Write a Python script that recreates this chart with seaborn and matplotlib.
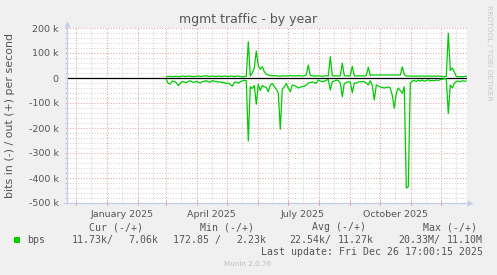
import numpy as np
import pandas as pd
import matplotlib
matplotlib.use("Agg")
import matplotlib.pyplot as plt
import matplotlib.dates as mdates
from matplotlib.patches import Rectangle
import seaborn as sns

# ---------------- data (k bits per second), one value every 2 days ----------------
start_date = "2025-03-01"
out_k = [5, 6, 7, 5, 6, 7, 5, 6, 8, 7, 6, 8, 7, 6, 5, 7, 8, 6, 7, 8, 9, 7, 6, 8, 7, 6, 8, 7, 6, 8,
         7, 6, 8, 7, 6, 7, 8, 6, 5, 6, 7,
         145, 8, 20, 40, 108, 50, 35, 45, 25, 15, 12, 10, 9, 10, 9, 8, 7, 9, 8, 9, 8, 10, 8, 9, 8,
         10, 9, 8, 9, 12, 52, 10, 9, 8,
         8, 9, 8, 7, 8, 9, 8, 85, 10, 8, 9, 8, 9, 59, 10, 8, 9, 8, 47, 9, 8, 9, 8, 9, 8, 10, 43,
         10, 12, 12, 12, 12, 12, 12, 12,
         12, 12, 12, 12, 12, 12, 12, 12, 45, 14, 8, 8, 8, 7, 8, 7, 8, 7, 8, 7, 8, 7, 8, 7, 8, 7,
         8, 7, 6, 6, 6, 179, 30, 40, 25, 6, 5, 6, 5, 6, 7]
in_k = [6, 22, 24, 12, 14, 18, 30, 22, 14, 16, 19, 14, 11, 16, 18, 13, 17, 20, 15, 13, 11, 15,
        17, 10, 13, 14, 17, 15, 19, 18, 22, 20, 26, 33, 18, 16, 21, 15, 12, 9, 12,
        252, 35, 42, 30, 105, 25, 50, 30, 35, 38, 55, 28, 22, 35, 45, 60, 205, 45, 35, 22, 40,
        55, 28, 30, 34, 40, 36, 35, 33, 28, 20, 18, 16, 18,
        21, 8, 12, 15, 13, 9, 6, 48, 15, 12, 8, 10, 20, 75, 22, 18, 15, 16, 59, 20, 21, 16, 15,
        14, 15, 20, 28, 11, 30, 88, 28, 32, 36, 38, 40,
        38, 36, 40, 70, 121, 61, 40, 50, 61, 35, 440, 435, 21, 12, 10, 14, 9, 12, 8, 13, 10, 7,
        12, 9, 11, 8, 10, 6, 5, 3, 3, 142, 28, 40, 21, 14, 12, 15, 11, 13, 12]

y_tick_values = [-500000, -400000, -300000, -200000, -100000, 0, 100000, 200000]
y_tick_labels = ["-500 k", "-400 k", "-300 k", "-200 k", "-100 k", "0", "100 k", "200 k"]
x_label_dates = ["2025-01-16", "2025-04-15", "2025-07-15", "2025-10-16"]
x_labels = ["January 2025", "April 2025", "July 2025", "October 2025"]

title = "mgmt traffic - by year"
ylabel = "bits in (-) / out (+) per second"
legend_name = "bps"
stat_headers = ["Cur (-/+)", "Min (-/+)", "Avg (-/+)", "Max (-/+)"]
stat_in = ["11.73k/", "172.85 /", "22.54k/", "20.33M/"]
stat_out = ["7.06k", "2.23k", "11.27k", "11.10M"]
last_update = "Last update: Fri Dec 26 17:00:15 2025"
footer = "Munin 2.0.76"
watermark = "RRDTOOL / TOBI OETIKER"

# ---------------- styling ----------------
sns.set_theme(style="white")
plt.rcParams["font.family"] = ["DejaVu Sans"]

W, H = 497, 275
fig = plt.figure(figsize=(W / 100, H / 100), dpi=100)
fig.patch.set_facecolor("#F0F0F0")
ax = fig.add_axes([67 / W, (H - 203) / H, 400 / W, 175 / H])
ax.set_facecolor("white")

green = "#00CC00"
major_c = "#E8A4A4"
minor_c = "#D4D4D4"
axis_c = "#C4CCEE"
text_c = "#555555"
dots = (0, (1, 1.6))

dates = pd.date_range(start_date, periods=len(out_k), freq="2D")
df = pd.DataFrame({"date": dates,
                   "out": np.array(out_k, dtype=float) * 1000,
                   "in": -np.array(in_k, dtype=float) * 1000})

t_end = pd.Timestamp("2025-12-26 17:00")
t_start = t_end - pd.Timedelta(days=400)
ax.set_xlim(t_start, t_end)
ax.set_ylim(-500000, 200000)

# grid
month_starts = pd.date_range("2024-12-01", "2025-12-01", freq="MS")
mid_months = month_starts[:-1] + pd.Timedelta(days=15)
mid_months = mid_months.append(pd.DatetimeIndex([pd.Timestamp("2024-11-16"), pd.Timestamp("2025-12-16")]))
for d in mid_months:
    ax.axvline(d, color=minor_c, lw=0.75, ls=dots, zorder=0.5)
for v in range(-480000, 200001, 20000):
    if v % 100000 != 0:
        ax.axhline(v, color=minor_c, lw=0.75, ls=dots, zorder=0.5)
for d in month_starts:
    ax.axvline(d, color=major_c, lw=0.75, ls=dots, zorder=0.6)
for v in y_tick_values:
    ax.axhline(v, color=major_c, lw=0.75, ls=dots, zorder=0.6)

ax.axhline(0, color="black", lw=0.9, zorder=2)

sns.lineplot(data=df, x="date", y="out", color=green, lw=0.9, ax=ax, zorder=3)
sns.lineplot(data=df, x="date", y="in", color=green, lw=0.9, ax=ax, zorder=3)

ax.set_xlabel("")
ax.set_ylabel("")

# ticks
ax.set_yticks(y_tick_values)
ax.set_yticklabels(y_tick_labels)
ax.set_yticks(range(-480000, 200001, 20000), minor=True)
ax.tick_params(axis="y", which="both", left=True, length=1.6, width=0.6, color="#B8B8B8",
               labelsize=6.8, labelcolor=text_c, pad=4.5)
ax.set_xticks(pd.to_datetime(x_label_dates))
ax.set_xticklabels(x_labels)
ax.set_xticks(month_starts, minor=True)
ax.tick_params(axis="x", which="major", bottom=True, length=0, labelsize=6.8, labelcolor=text_c, pad=5)
ax.tick_params(axis="x", which="minor", bottom=True, length=2.4, width=0.7, color="#E08080",
               direction="inout")

for s in ["top", "right", "left", "bottom"]:
    ax.spines[s].set_visible(False)
ax.plot([0, 0], [0, 1.025], transform=ax.transAxes, color=axis_c, lw=0.9, clip_on=False, zorder=4)
ax.plot([-0.008, 1.0075], [0, 0], transform=ax.transAxes, color=axis_c, lw=0.9, clip_on=False, zorder=4)
ax.plot([0], [1.025], transform=ax.transAxes, marker="^", ms=4.5, color=axis_c, mec="none",
        clip_on=False, zorder=4)
ax.plot([1.0075], [0], transform=ax.transAxes, marker=">", ms=4.5, color=axis_c, mec="none",
        clip_on=False, zorder=4)

def fx(px):
    return px / W

def fy(py):
    return 1 - py / H

fig.text(fx(248.5), fy(19), title, ha="center", va="center", fontsize=9, color=text_c)
fig.text(fx(10), fy(115), ylabel, ha="center", va="center", rotation=90, fontsize=7.9, color=text_c)
fig.text(fx(489), fy(5), watermark, ha="center", va="top", rotation=270, fontsize=5.4, color="#C8C8C8")

mono = "DejaVu Sans Mono"
header_x = [89, 200, 312, 423]
in_end = [114, 221, 331, 440]
out_end = [158, 266, 374, 483]
for hx, h in zip(header_x, stat_headers):
    fig.text(fx(hx), fy(227), h, ha="left", va="center", family=mono, fontsize=7.1, color=text_c)
fig.add_artist(Rectangle((fx(14), fy(243)), 6 / W, 6 / H, transform=fig.transFigure,
                         facecolor=green, edgecolor="none"))
fig.text(fx(27), fy(240), legend_name, ha="left", va="center", family=mono, fontsize=7.1, color=text_c)
for xe, s in zip(in_end, stat_in):
    fig.text(fx(xe), fy(240), s, ha="right", va="center", family=mono, fontsize=7.1, color=text_c)
for xe, s in zip(out_end, stat_out):
    fig.text(fx(xe), fy(240), s, ha="right", va="center", family=mono, fontsize=7.1, color=text_c)
fig.text(fx(483), fy(252), last_update, ha="right", va="center", family=mono, fontsize=7.1, color=text_c)
fig.text(fx(248), fy(264), footer, ha="center", va="center", fontsize=5.2, color="#BDBDBD")

fig.savefig("out.png", dpi=100, facecolor=fig.get_facecolor())
